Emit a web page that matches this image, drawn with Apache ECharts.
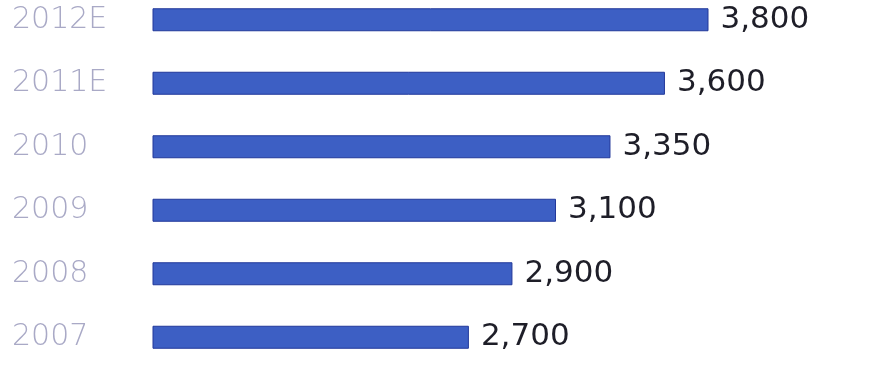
<!DOCTYPE html>
<html>
<head>
<meta charset="utf-8">
<script src="https://cdn.jsdelivr.net/npm/echarts@6/dist/echarts.min.js"></script>
<style>html,body{margin:0;padding:0;background:#fff;overflow:hidden}#wrap{position:relative;width:883px;height:369px;overflow:hidden}#c{position:absolute;left:0;top:-12px;width:883px;height:381px}</style>
</head>
<body>
<div id="wrap"><div id="c"></div></div>
<script>
var categories = ['2007', '2008', '2009', '2010', '2011E', '2012E'];
var values = [2700, 2900, 3100, 3350, 3600, 3800];

var chart = echarts.init(document.getElementById('c'), null, {renderer: 'canvas'});
chart.setOption({
  animation: false,
  backgroundColor: '#ffffff',
  grid: {left: 153, right: 22, top: 0, bottom: 0, containLabel: false},
  xAxis: {
    type: 'value', min: 1250, max: 4500,
    show: false
  },
  yAxis: {
    type: 'category',
    data: categories,
    axisLine: {show: false},
    axisTick: {show: false},
    splitLine: {show: false},
    axisLabel: {
      align: 'left',
      margin: 141,
      color: '#a9a9c6',
      fontFamily: 'DejaVu Sans',
      fontWeight: 200,
      fontSize: 30
    }
  },
  series: [{
    type: 'bar',
    data: values,
    barWidth: 23,
    itemStyle: {color: '#3d5fc4', borderColor: '#22389a', borderWidth: 1},
    label: {
      show: true,
      position: 'right',
      distance: 12,
      color: '#1e1e28',
      fontFamily: 'DejaVu Sans',
      fontSize: 31,
      formatter: function (p) { return p.value.toLocaleString('en-US'); }
    }
  }]
});
</script>
</body>
</html>
